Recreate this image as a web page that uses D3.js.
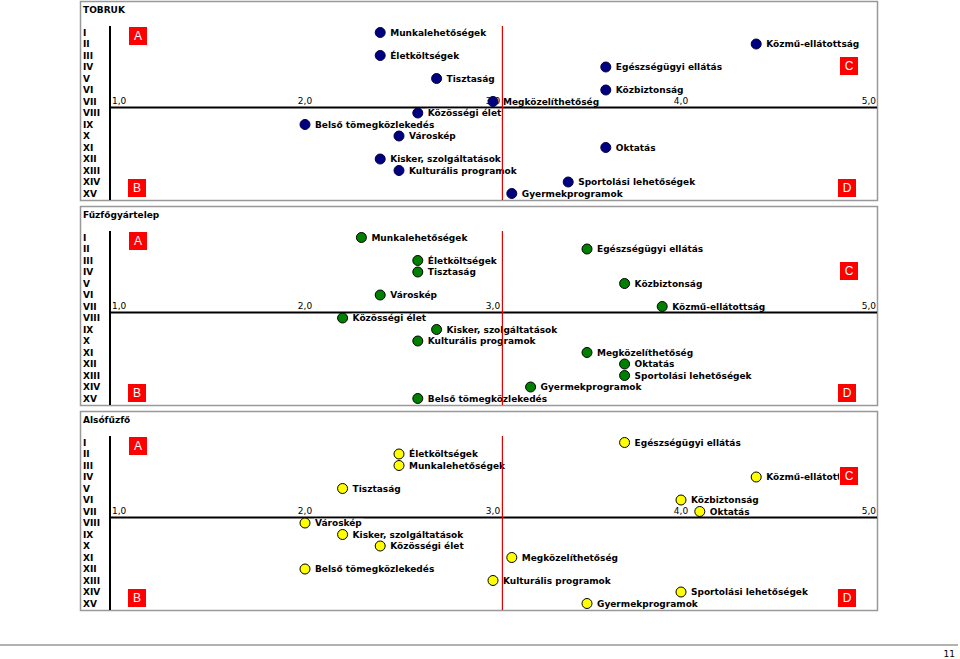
<!DOCTYPE html>
<html><head><meta charset="utf-8">
<script src="https://cdn.jsdelivr.net/npm/d3@7"></script>
<style>html,body{margin:0;padding:0;background:#fff;}svg{display:block;}</style>
</head><body>
<script>
// ---- data ----
const rowLabels = ["I","II","III","IV","V","VI","VII","VIII","IX","X","XI","XII","XIII","XIV","XV"];
const panelTitles = ["TOBRUK","Fűzfőgyártelep","Alsófűzfő"];
const panelColors = ["#000080","#008000","#ffff00"];
const xTicks = [1,2,3,4,5];
const tickLabels = ["1,0","2,0","3,0","4,0","5,0"];
const refValue = 3.05;
const cornerLetters = ["A","B","C","D"];

// items listed in row order I..XV
const tobrukItems = ["Munkalehetőségek","Közmű-ellátottság","Életköltségek","Egészségügyi ellátás","Tisztaság","Közbiztonság","Megközelíthetőség","Közösségi élet","Belső tömegközlekedés","Városkép","Oktatás","Kisker, szolgáltatások","Kulturális programok","Sportolási lehetőségek","Gyermekprogramok"];
const tobrukValues = [2.4,4.4,2.4,3.6,2.7,3.6,3.0,2.6,2.0,2.5,3.6,2.4,2.5,3.4,3.1];

const fuzfoItems = ["Munkalehetőségek","Egészségügyi ellátás","Életköltségek","Tisztaság","Közbiztonság","Városkép","Közmű-ellátottság","Közösségi élet","Kisker, szolgáltatások","Kulturális programok","Megközelíthetőség","Oktatás","Sportolási lehetőségek","Gyermekprogramok","Belső tömegközlekedés"];
const fuzfoValues = [2.3,3.5,2.6,2.6,3.7,2.4,3.9,2.2,2.7,2.6,3.5,3.7,3.7,3.2,2.6];

const alsoItems = ["Egészségügyi ellátás","Életköltségek","Munkalehetőségek","Közmű-ellátottság","Tisztaság","Közbiztonság","Oktatás","Városkép","Kisker, szolgáltatások","Közösségi élet","Megközelíthetőség","Belső tömegközlekedés","Kulturális programok","Sportolási lehetőségek","Gyermekprogramok"];
const alsoValues = [3.7,2.5,2.5,4.4,2.2,4.0,4.1,2.0,2.2,2.4,3.1,2.0,3.0,4.0,3.5];

const pageNumber = "11";

// ---- drawing ----
const W = 960, H = 659;
const svg = d3.select("body").append("svg").attr("width", W).attr("height", H);
const defs = svg.append("defs");

const panels = [
  {title: panelTitles[0], items: tobrukItems, values: tobrukValues, color: panelColors[0], top: 1},
  {title: panelTitles[1], items: fuzfoItems, values: fuzfoValues, color: panelColors[1], top: 206},
  {title: panelTitles[2], items: alsoItems, values: alsoValues, color: panelColors[2], top: 411}
];

const x = d3.scaleLinear().domain([1,5]).range([117,869]);
const y = d3.scalePoint().domain(rowLabels).range([31.5, 31.5 + 14*11.5]);

const SANS = "'DejaVu Sans', Verdana, sans-serif";
const overlaps = (a,b) => a.x < b.x + b.width && b.x < a.x + a.width && a.y < b.y + b.height && b.y < a.y + a.height;

panels.forEach((p, pi) => {
  const g = svg.append("g").attr("transform", `translate(0,${p.top})`);
  // frame
  g.append("rect").attr("x",80.5).attr("y",0.5).attr("width",797).attr("height",199)
    .attr("fill","#fff").attr("stroke","#999").attr("stroke-width",1.5);
  // title
  g.append("text").attr("x",83).attr("y",11.5).text(p.title)
    .attr("font-family",SANS).attr("font-size",9).attr("font-weight","bold").attr("fill","#000");
  // row labels
  g.selectAll("text.row").data(rowLabels).join("text").attr("class","row")
    .attr("x",83).attr("y",d => y(d)).attr("dy","0.36em").text(d => d)
    .attr("font-family",SANS).attr("font-size",9).attr("font-weight","bold").attr("fill","#000");
  // tick labels
  const axisY = y("VII") + 6;
  const ticks = g.selectAll("text.tick").data(xTicks).join("text").attr("class","tick")
    .attr("x",(d,i) => i === 0 ? x(d) - 5 : (i === xTicks.length-1 ? x(d) + 7 : x(d)))
    .attr("text-anchor",(d,i) => i === 0 ? "start" : (i === xTicks.length-1 ? "end" : "middle"))
    .attr("y", y("VII") + 2.5).text((d,i) => tickLabels[i])
    .attr("font-family",SANS).attr("font-size",9).attr("fill","#000");
  // axes
  g.append("line").attr("x1",110).attr("x2",877).attr("y1",axisY).attr("y2",axisY)
    .attr("stroke","#000").attr("stroke-width",2);
  g.append("line").attr("x1",110).attr("x2",110).attr("y1",25).attr("y2",199)
    .attr("stroke","#000").attr("stroke-width",2);

  const corners = [
    {l: cornerLetters[0], x: 129, y: 26},
    {l: cornerLetters[1], x: 128, y: 178},
    {l: cornerLetters[2], x: 840, y: 56},
    {l: cornerLetters[3], x: 838, y: 178}
  ];

  // points + labels
  const data = p.items.map((name,i) => ({name, value: p.values[i], row: rowLabels[i]}));
  const lg = g.append("g");
  const labels = lg.selectAll("g").data(data).join("g");
  labels.append("rect").attr("fill","#fff");
  labels.append("text").attr("x",d => x(d.value) + 10).attr("y",d => y(d.row)).attr("dy","0.36em")
    .text(d => d.name).attr("font-family",SANS).attr("font-size",9).attr("font-weight","bold").attr("fill","#000");
  const labelBoxes = [];
  labels.each(function(d, i){
    const sel = d3.select(this);
    const t = sel.select("text").node().getBBox();
    sel.select("rect").attr("x",t.x-1).attr("y",t.y+0.5).attr("width",t.width+2).attr("height",t.height-1.5);
    labelBoxes.push(t);
    // labels running under a corner box are cut at the box edge
    corners.forEach((c, ci) => {
      const cb = {x: c.x, y: c.y, width: 18, height: 18};
      if (overlaps(t, cb)) {
        const id = `clip-${pi}-${i}-${ci}`;
        defs.append("clipPath").attr("id", id).append("rect")
          .attr("x", 0).attr("y", p.top - 10 + 0).attr("width", c.x - 1).attr("height", 700);
        sel.attr("clip-path", `url(#${id})`);
        // clip in group coords: group is inside translated g, clipPath uses userSpaceOnUse of element
        defs.select(`#${id} rect`).attr("y", -1000).attr("height", 3000);
      }
    });
  });
  // hide tick labels covered by point labels (as in the original)
  ticks.each(function(){
    const b = this.getBBox();
    if (labelBoxes.some(lb => overlaps(b, lb))) d3.select(this).remove();
  });
  g.selectAll("circle").data(data).join("circle")
    .attr("cx",d => x(d.value)).attr("cy",d => y(d.row)).attr("r",5)
    .attr("fill",p.color).attr("stroke",p.color === "#000080" ? "#000040" : "#000").attr("stroke-width",1);
  // reference line
  g.append("line").attr("x1",x(refValue)).attr("x2",x(refValue)).attr("y1",25).attr("y2",199)
    .attr("stroke","#e00000").attr("stroke-width",1.2);
  // corner letters
  corners.forEach(c => {
    g.append("rect").attr("x",c.x).attr("y",c.y).attr("width",18).attr("height",18).attr("fill","#f00");
    g.append("text").attr("x",c.x+9).attr("y",c.y+9).attr("dy","0.36em").attr("text-anchor","middle")
      .text(c.l).attr("font-family","'Liberation Sans', Arial, sans-serif").attr("font-size",12).attr("fill","#fff");
  });
});

// bottom rule and page number
svg.append("line").attr("x1",0).attr("x2",958).attr("y1",645).attr("y2",645)
  .attr("stroke","#999").attr("stroke-width",1.5);
svg.append("text").attr("x",955).attr("y",657).attr("text-anchor","end").text(pageNumber)
  .attr("font-family",SANS).attr("font-size",9).attr("fill","#000");
</script>
</body></html>
